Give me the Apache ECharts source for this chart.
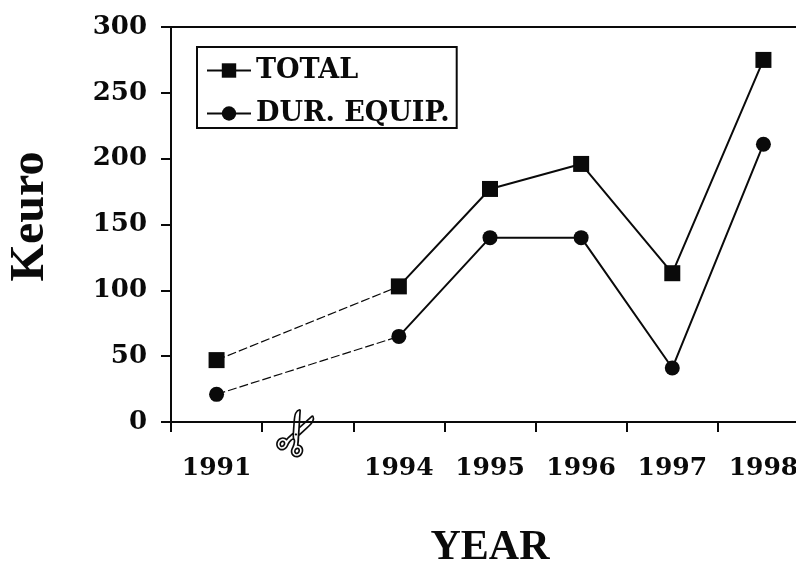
<!DOCTYPE html>
<html>
<head>
<meta charset="utf-8">
<script src="https://cdn.jsdelivr.net/npm/echarts@6/dist/echarts.min.js"></script>
<style>html,body{margin:0;padding:0;background:#fff}#chart{width:796px;height:563px}</style>
</head>
<body>
<div id="chart"></div>
<script>
// the axis is broken between 1991 and 1994, so one empty slot is kept
var years = ['1991', '', '1994', '1995', '1996', '1997', '1998'];
var total = [47, null, 103, 177, 196, 113, 275];
var durEquip = [21, null, 65, 140, 140, 41, 211];
var yTicks = [0, 50, 100, 150, 200, 250, 300];
var breakEnd = 2; // first segment (1991-1994) is drawn dashed

var serif = '"Liberation Serif", "Times New Roman", serif';
var wide = '"DejaVu Serif", serif';
var ink = '#0a0a0a';
var myChart = echarts.init(document.getElementById('chart'));

function solidSeries(name, data, symbol, size) {
    return {
        name: name,
        type: 'line',
        data: data,
        connectNulls: false,
        symbol: symbol,
        symbolSize: size,
        z: 3,
        itemStyle: { color: ink },
        lineStyle: { color: ink, width: 2 }
    };
}

function dashedSeries(name, data) {
    return {
        name: name,
        type: 'line',
        data: data.map(function (v, i) { return i <= breakEnd ? v : null; }),
        connectNulls: true,
        symbol: 'none',
        z: 2,
        lineStyle: { color: ink, width: 1.2, type: [9, 3] }
    };
}

var option = {
    animation: false,
    backgroundColor: '#fff',
    textStyle: { fontFamily: wide },
    grid: { left: 171, right: -13, top: 27, bottom: 141, outerBoundsMode: 'none' },
    legend: {
        orient: 'vertical',
        left: 197,
        top: 47,
        padding: [10, 7, 1, 9],
        itemGap: 16,
        itemWidth: 44,
        itemHeight: 18,
        borderColor: ink,
        borderWidth: 2,
        borderRadius: 0,
        backgroundColor: '#fff',
        textStyle: { fontFamily: wide, fontWeight: 'bold', fontSize: 27, color: ink },
        data: ['TOTAL', 'DUR. EQUIP.']
    },
    xAxis: [{
        type: 'category',
        data: years,
        name: 'YEAR',
        nameLocation: 'middle',
        nameGap: 105,
        nameTextStyle: { fontFamily: serif, fontWeight: 'bold', fontSize: 42, color: ink },
        axisLine: { lineStyle: { color: ink, width: 2 } },
        axisTick: { show: true, interval: 0, length: 10, lineStyle: { color: ink, width: 2 } },
        axisLabel: { fontFamily: wide, fontWeight: 'bold', fontSize: 25, color: ink, margin: 34, interval: 0 },
        splitLine: { show: false }
    }, {
        type: 'category',
        data: years,
        position: 'top',
        axisLine: { lineStyle: { color: ink, width: 2 } },
        axisTick: { show: false },
        axisLabel: { show: false },
        splitLine: { show: false }
    }],
    yAxis: {
        type: 'value',
        min: 0,
        max: 300,
        interval: 50,
        name: 'Keuro',
        nameLocation: 'middle',
        nameGap: 116,
        nameRotate: 90,
        nameTextStyle: { fontFamily: serif, fontWeight: 'bold', fontSize: 48, color: ink, padding: [0, 0, 0, 16] },
        axisLine: { show: true, lineStyle: { color: ink, width: 2 } },
        axisTick: { show: true, length: 10, lineStyle: { color: ink, width: 2 } },
        axisLabel: {
            fontFamily: wide, fontWeight: 'bold', fontSize: 26, color: ink, margin: 24,
            formatter: function (v) { return yTicks.indexOf(v) >= 0 ? String(v) : ''; }
        },
        splitLine: { show: false }
    },
    graphic: [{
        type: 'text',
        x: 302,
        y: 436,
        rotation: Math.PI / 2 - 0.45,
        style: {
            text: '\u2704',
            font: '58px "DejaVu Sans"',
            fill: ink,
            align: 'center',
            verticalAlign: 'middle'
        }
    }],
    series: [
        dashedSeries('TOTAL (1991-1994)', total),
        dashedSeries('DUR. EQUIP. (1991-1994)', durEquip),
        solidSeries('TOTAL', total, 'rect', 16),
        solidSeries('DUR. EQUIP.', durEquip, 'circle', 15)
    ]
};

myChart.setOption(option);
</script>
</body>
</html>
